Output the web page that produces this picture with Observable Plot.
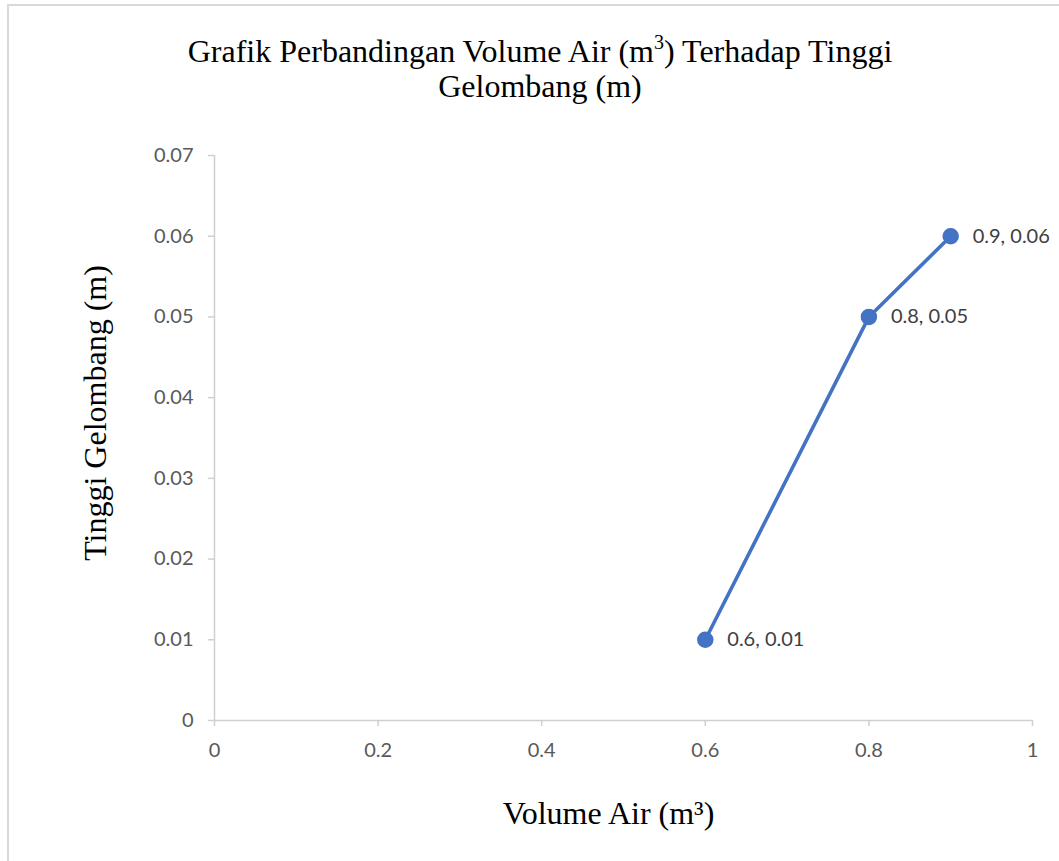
<!DOCTYPE html>
<html>
<head>
<meta charset="utf-8">
<script src="https://cdn.jsdelivr.net/npm/d3@7"></script>
<script src="https://cdn.jsdelivr.net/npm/@observablehq/plot@0.6"></script>
<style>
  html, body { margin: 0; padding: 0; background: #fff; }
  #wrap { position: relative; width: 1059px; height: 861px; overflow: hidden; }
  #frame { position: absolute; left: 7px; top: 4px; width: 1100px; height: 900px; border: 2px solid #d9d9d9; box-sizing: border-box; }
  #title { position: absolute; left: 0; top: 34px; width: 1080px; text-align: center;
           font-family: "Liberation Serif", "Times New Roman", serif; font-size: 32px; line-height: 35px; color: #000; }
  #title sup { font-size: 20px; line-height: 0; position: relative; top: -1px; }
  #chart { position: absolute; left: 0; top: 0; }
</style>
</head>
<body>
<div id="wrap">
  <div id="frame"></div>
  <div id="chart"></div>
  <div id="title">Grafik Perbandingan Volume Air (m<sup>3</sup>) Terhadap Tinggi<br>Gelombang (m)</div>
</div>
<script>
const volume = [0.6, 0.8, 0.9];
const tinggi = [0.01, 0.05, 0.06];
const pointLabels = ["0.6, 0.01", "0.8, 0.05", "0.9, 0.06"];
const xTicks = [0, 0.2, 0.4, 0.6, 0.8, 1];
const xTickLabels = ["0", "0.2", "0.4", "0.6", "0.8", "1"];
const yTicks = [0, 0.01, 0.02, 0.03, 0.04, 0.05, 0.06, 0.07];
const yTickLabels = ["0", "0.01", "0.02", "0.03", "0.04", "0.05", "0.06", "0.07"];
const xLabel = "Volume Air (m³)";
const yLabel = "Tinggi Gelombang (m)";

const data = volume.map((v, i) => ({x: v, y: tinggi[i], label: pointLabels[i]}));
const blue = "#4472C4";
const axisGray = "#d0d0d0";
const textGray = "#595959";
const sans = "Lato, 'Open Sans', sans-serif";
const serif = "'Liberation Serif', 'Times New Roman', serif";

const chart = Plot.plot({
  width: 1059,
  height: 861,
  marginLeft: 214,
  marginRight: 27,
  marginTop: 155,
  marginBottom: 141,
  style: {background: "transparent", overflow: "visible"},
  x: {domain: [0, 1]},
  y: {domain: [0, 0.07]},
  marks: [
    Plot.ruleY([0], {stroke: axisGray, strokeWidth: 1.5}),
    Plot.ruleX([0], {stroke: axisGray, strokeWidth: 1.5}),
    Plot.axisX({
      ticks: xTicks,
      tickFormat: (d) => xTickLabels[xTicks.indexOf(d)],
      tickSize: 6, tickPadding: 16,
      stroke: axisGray, strokeWidth: 1.5,
      fill: textGray, fontSize: 20, fontFamily: sans,
      label: null
    }),
    Plot.axisY({
      ticks: yTicks,
      tickFormat: (d) => yTickLabels[yTicks.indexOf(d)],
      tickSize: 6, tickPadding: 15,
      stroke: axisGray, strokeWidth: 1.5,
      fill: textGray, fontSize: 20, fontFamily: sans,
      label: null
    }),
    Plot.line(data, {x: "x", y: "y", stroke: blue, strokeWidth: 3.6}),
    Plot.dot(data, {x: "x", y: "y", r: 7.5, fill: blue, stroke: blue}),
    Plot.text(data, {x: "x", y: "y", text: "label", textAnchor: "start", dx: 22,
      fill: "#404040", fontSize: 20, fontFamily: sans}),
    Plot.text([xLabel], {frameAnchor: "bottom", textAnchor: "middle", lineAnchor: "middle",
      dy: 93, dx: -15, fontSize: 32, fontFamily: serif, fill: "#000"}),
    Plot.text([yLabel], {frameAnchor: "left", textAnchor: "middle", lineAnchor: "middle",
      dx: -119, dy: -25, rotate: -90, fontSize: 32, fontFamily: serif, fill: "#000"})
  ]
});
document.getElementById("chart").appendChild(chart);
</script>
</body>
</html>
